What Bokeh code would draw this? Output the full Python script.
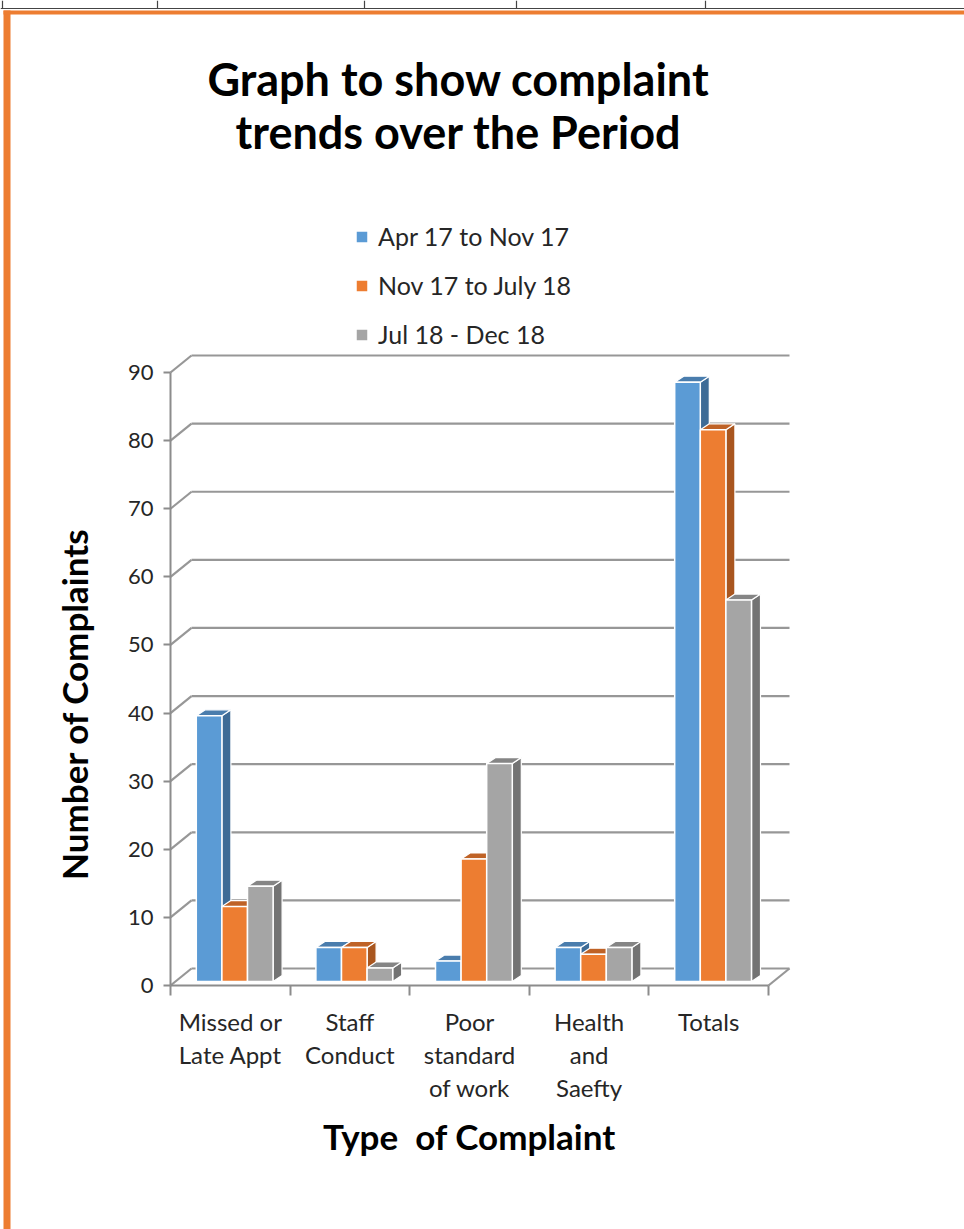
from bokeh.plotting import figure
from bokeh.models import Range1d, LinearAxis, FixedTicker, Legend, LegendItem
from bokeh.core.properties import value
from bokeh.embed import file_html
from bokeh.resources import INLINE

# ---------------- data ----------------
categories = ["Missed or\nLate Appt", "Staff\nConduct", "Poor\nstandard\nof work",
              "Health\nand\nSaefty", "Totals"]
series_names = ["Apr 17 to Nov 17", "Nov 17 to July 18", "Jul 18 - Dec 18"]
apr17_nov17 = [39, 5, 3, 5, 88]
nov17_jul18 = [11, 5, 18, 4, 81]
jul18_dec18 = [14, 2, 32, 5, 56]
y_ticks = [0, 10, 20, 30, 40, 50, 60, 70, 80, 90]
title_lines = ["Graph to show complaint", "trends over the Period"]
x_title = "Type\u00a0 of Complaint"
y_title = "Number of Complaints"

# ---------------- styles ----------------
front_colors = ["#5B9BD5", "#ED7D31", "#A5A5A5"]
side_colors = ["#3E6B96", "#A9561F", "#737373"]
top_colors = ["#4A7DAD", "#BF6226", "#858585"]
FONT = "Lato"
GRID = "#979797"

W, H = 964, 1229
SX = 119.6      # px per category
SY = 6.811      # px per complaint
AX_LEFT, AX_BOTTOM = 170, 985
X0 = -AX_LEFT / SX
X1 = X0 + W / SX
Y0 = -(H - AX_BOTTOM) / SY
Y1 = Y0 + H / SY


def px(xp):
    return X0 + xp / SX


def py(yp):
    return Y1 - yp / SY


WDX, WDY = 21 / SX, 17 / SY     # wall depth
FDX, FDY = 4.4 / SX, 4 / SY     # bar front-plane offset
BDX, BDY = 9 / SX, 6 / SY       # bar depth
BW = 25.6 / SX                  # bar width

p = figure(width=W, height=H, x_range=Range1d(X0, X1), y_range=Range1d(Y0, Y1),
           min_border=0, toolbar_location=None, output_backend="svg",
           x_axis_location=None, y_axis_location=None, outline_line_color=None,
           background_fill_color="white", border_fill_color="white")
p.grid.visible = False

# page decorations: table lines and orange frame
p.segment(x0=[px(0)], y0=[py(8)], x1=[px(W)], y1=[py(8)], line_color="#444444", line_width=1.2)
p.segment(x0=[px(v) for v in [2, 157, 364, 516, 705]], y0=[py(0)] * 5,
          x1=[px(v) for v in [2, 157, 364, 516, 705]], y1=[py(8)] * 5,
          line_color="#444444", line_width=1.2)
p.quad(left=[px(3)], right=[px(10)], top=[py(10)], bottom=[py(H)], fill_color="#ED7D31", line_color=None)
p.quad(left=[px(3)], right=[px(W)], top=[py(10)], bottom=[py(14)], fill_color="#ED7D31", line_color=None)

# 3-D walls
n = len(categories)
p.multi_line(xs=[[WDX, n + WDX] for v in y_ticks], ys=[[v + WDY, v + WDY] for v in y_ticks],
             line_color=GRID, line_width=2.2)
p.multi_line(xs=[[0, WDX] for v in y_ticks], ys=[[v, v + WDY] for v in y_ticks],
             line_color=GRID, line_width=2.2)
p.multi_line(xs=[[n, n + WDX]], ys=[[0, WDY]], line_color=GRID, line_width=2.2)

# bars
renderers = []
for j, vals in enumerate([apr17_nov17, nov17_jul18, jul18_dec18]):
    xc = [i + 0.5 + (j - 1) * BW + FDX for i in range(n)]
    tops = [v + FDY for v in vals]
    b = FDY
    side_xs, side_ys, top_xs, top_ys = [], [], [], []
    for c, t in zip(xc, tops):
        x0, x1 = c - BW / 2, c + BW / 2
        side_xs.append([x1, x1 + BDX, x1 + BDX, x1])
        side_ys.append([b, b + BDY, t + BDY, t])
        top_xs.append([x0, x1, x1 + BDX, x0 + BDX])
        top_ys.append([t, t, t + BDY, t + BDY])
    p.patches(xs=side_xs, ys=side_ys, fill_color=side_colors[j], line_color="white", line_width=1.2)
    p.patches(xs=top_xs, ys=top_ys, fill_color=top_colors[j], line_color="white", line_width=1.2)
    r = p.vbar(x=xc, width=BW, bottom=b, top=tops, fill_color=front_colors[j],
               line_color="white", line_width=1.5)
    renderers.append(r)

# y axis
yaxis = LinearAxis(fixed_location=0, bounds=(0, 90), ticker=FixedTicker(ticks=y_ticks),
                   axis_line_color="#8c8c8c", axis_line_width=2,
                   major_tick_out=7, major_tick_in=0, major_tick_line_color="#8c8c8c",
                   major_tick_line_width=2, minor_tick_out=0, minor_tick_in=0,
                   major_label_text_font=FONT, major_label_text_font_size="22px",
                   major_label_text_color="#262626", major_label_standoff=10)
p.add_layout(yaxis, "left")

# y axis title (carried by a line-less axis so it can be centred like the reference)
ytitle_axis = LinearAxis(fixed_location=0, bounds=(0, 82.6), ticker=FixedTicker(ticks=[]),
                         axis_line_color=None, major_tick_line_color=None, minor_tick_line_color=None,
                         major_tick_out=0, major_tick_in=0, minor_tick_out=0, minor_tick_in=0,
                         axis_label=y_title, axis_label_text_font=FONT,
                         axis_label_text_font_size="35px", axis_label_text_font_style="bold",
                         axis_label_text_color="black", axis_label_standoff=76)
p.add_layout(ytitle_axis, "left")

# x axis: ticks at category boundaries
xtick_axis = LinearAxis(fixed_location=0, bounds=(0, n), ticker=FixedTicker(ticks=list(range(n + 1))),
                        axis_line_color="#8c8c8c", axis_line_width=2,
                        major_tick_out=10, major_tick_in=0, major_tick_line_color="#8c8c8c",
                        major_tick_line_width=2, minor_tick_out=0, minor_tick_in=0,
                        major_label_overrides={i: "" for i in range(n + 1)})
p.add_layout(xtick_axis, "below")

centers = [i + 0.5 for i in range(n)]
xlabel_axis = LinearAxis(fixed_location=0, bounds=(0, n), ticker=FixedTicker(ticks=centers),
                         axis_line_color=None, major_tick_line_color=None,
                         major_tick_out=0, major_tick_in=0, minor_tick_out=0, minor_tick_in=0,
                         major_label_overrides=dict(zip(centers, categories)),
                         major_label_text_font=FONT, major_label_text_font_size="24px",
                         major_label_text_color="#262626", major_label_standoff=21,
                         major_label_text_line_height=1.15,
                         axis_label=x_title, axis_label_text_font=FONT,
                         axis_label_text_font_size="35px", axis_label_text_font_style="bold",
                         axis_label_text_color="black", axis_label_standoff=10)
p.add_layout(xlabel_axis, "below")

# title
p.text(x=[px(458), px(458)], y=[py(78), py(131)], text=title_lines,
       text_font=value(FONT), text_font_size="45px", text_font_style="bold",
       text_align="center", text_baseline="middle", text_color="black")

# legend
legend = Legend(items=[LegendItem(label=nm, renderers=[r]) for nm, r in zip(series_names, renderers)],
                location=(354, H - 349), orientation="vertical",
                glyph_width=15, glyph_height=15, label_standoff=9, spacing=19,
                padding=0, margin=0, border_line_color=None, background_fill_alpha=0,
                label_text_font=FONT, label_text_font_size="25px", label_text_color="#262626")
p.add_layout(legend, "center")

open("out.html", "w").write(file_html(p, INLINE))
